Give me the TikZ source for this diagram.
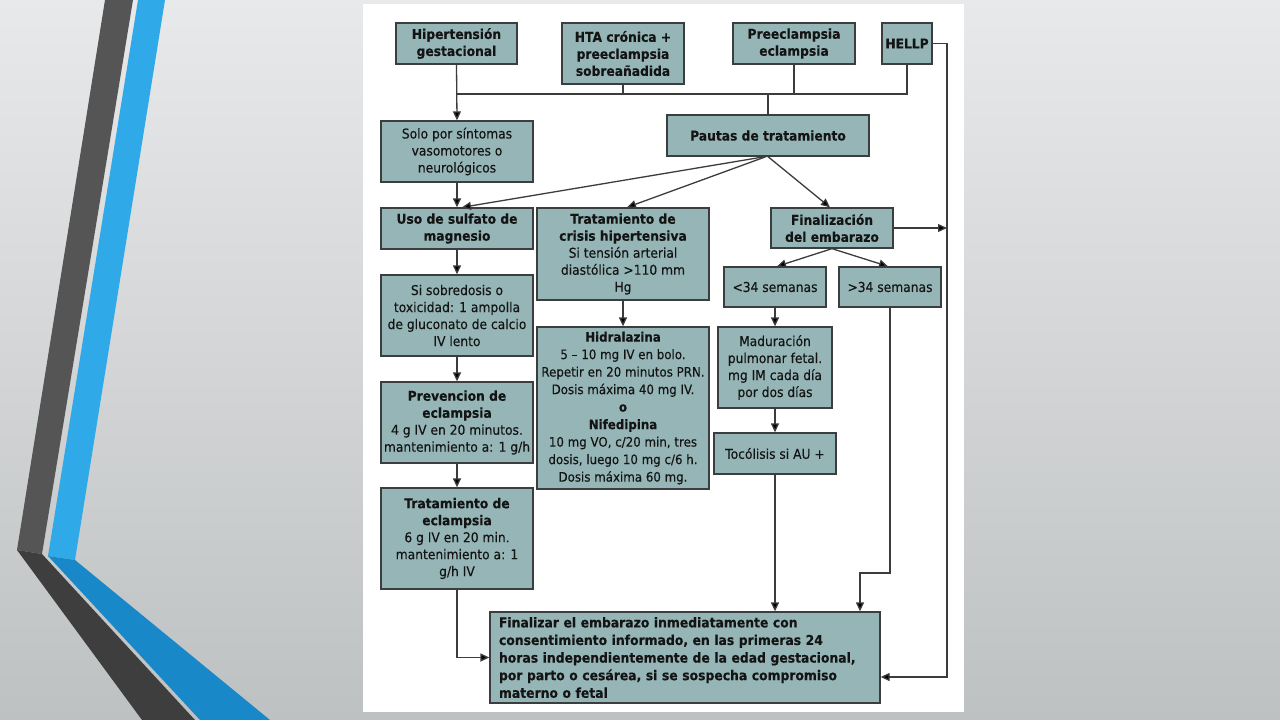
\documentclass[tikz,border=0pt]{standalone}
\usepackage{fontspec}
\setmainfont{DejaVu Sans}[FakeStretch=0.91, FakeBold=0.25]
\usetikzlibrary{arrows.meta}
\definecolor{boxfill}{RGB}{149,181,182}
\definecolor{boxline}{RGB}{58,62,62}
\definecolor{txt}{RGB}{20,20,20}
\definecolor{lncol}{RGB}{60,60,60}
\definecolor{bgT}{RGB}{232,233,234}
\definecolor{bgB}{RGB}{190,193,194}
\definecolor{darkA}{RGB}{85,85,85}
\definecolor{darkB}{RGB}{62,62,62}
\definecolor{blueA}{RGB}{47,169,232}
\definecolor{blueB}{RGB}{24,136,200}
\tikzset{
  box/.style={draw=boxline, fill=boxfill, line width=1.3pt, inner sep=0pt, align=center,
    text=txt, font=\fontsize{13.5}{17}\selectfont},
  ln/.style={draw=lncol, line width=1.3pt},
  arr/.style={ln, -{Triangle[length=9pt,width=8pt,fill=black]}},
}
\begin{document}
\begin{tikzpicture}[x=1pt,y=-1pt]
\useasboundingbox (0,0) rectangle (1280,720);
% background
\shade[top color=bgT, bottom color=bgB] (0,0) rectangle (1280,720);
% decoration
\fill[darkA] (105,0) -- (133,0) -- (42,554) -- (17,550) -- cycle;
\fill[darkB] (17,550) -- (42,554) -- (195,720) -- (142,720) -- cycle;
\fill[blueA] (138,0) -- (165,0) -- (75,560) -- (48,556) -- cycle;
\fill[blueB] (48,556) -- (75,560) -- (270,720) -- (200,720) -- cycle;
% panel
\fill[white] (363,4) rectangle (964,712);

% nodes
\node[box, minimum width=121pt, minimum height=41pt] (hg) at (456.5,43.5)
  {\textbf{Hipertensión}\\\textbf{gestacional}};
\node[box, minimum width=122pt, minimum height=61pt] (hta) at (623,53.5)
  {\textbf{HTA crónica +}\\\textbf{preeclampsia}\\\textbf{sobreañadida}};
\node[box, minimum width=122pt, minimum height=41pt] (pre) at (794,43.5)
  {\textbf{Preeclampsia}\\\textbf{eclampsia}};
\node[box, minimum width=50pt, minimum height=41pt] (hellp) at (907,43.5)
  {\textbf{HELLP}};
\node[box, minimum width=152pt, minimum height=61pt] (solo) at (457,151.5)
  {Solo por síntomas\\vasomotores o\\neurológicos};
\node[box, minimum width=202pt, minimum height=41pt] (pautas) at (768,135.5)
  {\textbf{Pautas de tratamiento}};
\node[box, minimum width=152pt, minimum height=41pt] (uso) at (457,228.5)
  {\textbf{Uso de sulfato de}\\\textbf{magnesio}};
\node[box, minimum width=172pt, minimum height=92pt] (crisis) at (623,254)
  {\textbf{Tratamiento de}\\\textbf{crisis hipertensiva}\\Si tensión arterial\\diastólica >110 mm\\Hg};
\node[box, minimum width=122pt, minimum height=40pt] (fin) at (832,228)
  {\textbf{Finalización}\\\textbf{del embarazo}};
\node[box, minimum width=102pt, minimum height=40pt] (lt) at (775,287)
  {<34 semanas};
\node[box, minimum width=102pt, minimum height=40pt] (gt) at (890,287)
  {>34 semanas};
\node[box, minimum width=152pt, minimum height=81pt] (sobre) at (457,315.5)
  {Si sobredosis o\\toxicidad: 1 ampolla\\de gluconato de calcio\\IV lento};
\node[box, minimum width=152pt, minimum height=81pt] (prev) at (457,422.5)
  {\textbf{Prevencion de}\\\textbf{eclampsia}\\4 g IV en 20 minutos.\\mantenimiento a: 1 g/h};
\node[box, minimum width=152pt, minimum height=101pt] (trat) at (457,538.5)
  {\textbf{Tratamiento de}\\\textbf{eclampsia}\\6 g IV en 20 min.\\mantenimiento a: 1\\g/h IV};
\node[box, minimum width=172pt, minimum height=162pt, font=\fontsize{13}{17.5}\selectfont] (hidra) at (623,408)
  {\textbf{Hidralazina}\\5 – 10 mg IV en bolo.\\Repetir en 20 minutos PRN.\\Dosis máxima 40 mg IV.\\\textbf{o}\\\textbf{Nifedipina}\\10 mg VO, c/20 min, tres\\dosis, luego 10 mg c/6 h.\\Dosis máxima 60 mg.};
\node[box, minimum width=114pt, minimum height=81pt] (madu) at (775,367.5)
  {Maduración\\pulmonar fetal.\\mg IM cada día\\por dos días};
\node[box, minimum width=122pt, minimum height=41pt] (toco) at (775,453.5)
  {Tocólisis si AU +};
\node[box, text width=372pt, inner xsep=9pt, minimum height=91pt, align=left,
  font=\bfseries\fontsize{13.6}{17.6}\selectfont] (main) at (685,657.5)
  {Finalizar el embarazo inmediatamente con\\consentimiento informado, en las primeras 24\\horas independientemente de la edad gestacional,\\por parto o cesárea, si se sospecha compromiso\\materno o fetal};

% coordinates
\coordinate (busL) at (457,94);
\coordinate (R) at (947,677);
\coordinate (K) at (860,573);

% connectors
\draw[ln] (hellp.south) |- (busL);
\draw[ln] (hta.south) -- (hta.south |- busL);
\draw[ln] (pre.south) -- (pre.south |- busL);
\draw[ln] (pautas.north |- busL) -- (pautas.north);
\draw[arr] (hg.south) -- (solo.north);
\draw[arr] (hellp.east) -| (R) -- (main.east |- R);
\draw[arr] (fin.east) -- (fin.east -| R);
\draw[arr] ([xshift=-3pt]pautas.south) -- ([xshift=5pt]uso.north);
\draw[arr] ([xshift=-2pt]pautas.south) -- ([xshift=4pt]crisis.north);
\draw[arr] (pautas.south) -- ([xshift=-2pt]fin.north);
\draw[arr] (solo.south) -- (uso.north);
\draw[arr] (uso.south) -- (sobre.north);
\draw[arr] (sobre.south) -- (prev.north);
\draw[arr] (prev.south) -- (trat.north);
\draw[arr] (trat.south) |- (main.west);
\draw[arr] (crisis.south) -- (hidra.north);
\draw[arr] (fin.south) -- ([xshift=2pt]lt.north);
\draw[arr] (fin.south) -- ([xshift=-2pt]gt.north);
\draw[arr] (lt.south) -- (madu.north);
\draw[arr] (madu.south) -- (toco.north);
\draw[arr] (toco.south) -- (toco.south |- main.north);
\draw[arr] (gt.south) |- (K) -- (K |- main.north);
\end{tikzpicture}
\end{document}
